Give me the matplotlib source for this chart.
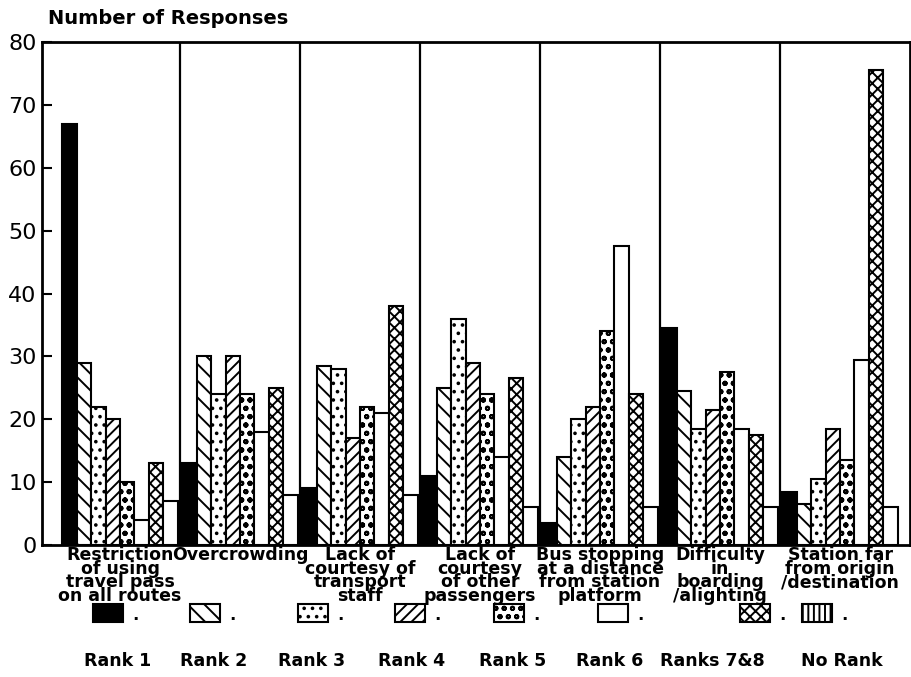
import numpy as np
import matplotlib
matplotlib.use('Agg')
import matplotlib.pyplot as plt
from matplotlib.patches import Rectangle

plt.rcParams['font.family'] = ['DejaVu Sans']
plt.rcParams['hatch.linewidth'] = 1.4

problems = ['Restriction\nof using\ntravel pass\non all routes',
            'Overcrowding',
            'Lack of\ncourtesy of\ntransport\nstaff',
            'Lack of\ncourtesy\nof other\npassengers',
            'Bus stopping\nat a distance\nfrom station\nplatform',
            'Difficulty\nin\nboarding\n/alighting',
            'Station far\nfrom origin\n/destination']

rank_labels = ['Rank 1', 'Rank 2', 'Rank 3', 'Rank 4', 'Rank 5', 'Rank 6', 'Ranks 7&8', 'No Rank']

rank1 = [67, 13, 9, 11, 3.5, 34.5, 8.5]
rank2 = [29, 30, 28.5, 25, 14, 24.5, 6.5]
rank3 = [22, 24, 28, 36, 20, 18.5, 10.5]
rank4 = [20, 30, 17, 29, 22, 21.5, 18.5]
rank5 = [10, 24, 22, 24, 34, 27.5, 13.5]
rank6 = [4, 18, 21, 14, 47.5, 18.5, 29.5]
rank78 = [13, 25, 38, 26.5, 24, 17.5, 75.5]
norank = [7, 8, 8, 6, 6, 6, 6]

series = [rank1, rank2, rank3, rank4, rank5, rank6, rank78, norank]
fills = ['black', 'white', 'white', 'white', 'white', 'white', 'white', 'white']
hatches = [None, '\\\\', '..', '///', 'oo', None, 'xxx', None]
legend_hatches = [None, '\\\\', '..', '///', 'oo', None, 'xxx', '|||']

W, H = 912, 677
fig = plt.figure(figsize=(W / 100, H / 100), dpi=100)
ax = fig.add_axes([42 / W, 1 - 545 / H, (910 - 42) / W, (545 - 42) / H])

x = np.arange(len(problems))
w = 0.12
for j, vals in enumerate(series):
    ax.bar(x + (j - 3.5) * w, vals, width=w, color=fills[j], edgecolor='black',
           linewidth=1.5, hatch=hatches[j], zorder=2)

for k in range(len(problems) - 1):
    ax.axvline(k + 0.5, color='black', linewidth=1.6, zorder=3)

ax.set_xlim(-0.65, 6.583)
ax.set_ylim(0, 80)
ax.set_yticks(np.arange(0, 81, 10))
ax.set_xticks([])
ax.tick_params(axis='y', direction='in', length=7, width=1.5, labelsize=16, pad=4)
for s in ax.spines.values():
    s.set_linewidth(2)

for k, lab in enumerate(problems):
    ax.text(x[k], -0.2, lab, ha='center', va='top', fontsize=12.5, fontweight='bold',
            linespacing=0.68, transform=ax.transData)

fig.text(48 / W, 1 - 18 / H, 'Number of Responses', ha='left', va='center',
         fontsize=14, fontweight='bold')

# legend drawn by hand: swatch, a dot, label underneath
sw_left = [93, 190, 298, 395, 494, 598, 740, 802]
lab_cx = [118, 214, 312, 412, 513, 610, 712, 842]
for j in range(8):
    fig.add_artist(Rectangle((sw_left[j] / W, 1 - 622 / H), 30 / W, 18 / H,
                             transform=fig.transFigure, facecolor=fills[j],
                             edgecolor='black', linewidth=1.5, hatch=legend_hatches[j]))
    fig.text((sw_left[j] + 42) / W, 1 - 620 / H, '.', ha='center', va='baseline',
             fontsize=12, fontweight='bold')
    fig.text(lab_cx[j] / W, 1 - 661 / H, rank_labels[j], ha='center', va='center',
             fontsize=12.5, fontweight='bold')

fig.savefig('out.png', dpi=100)
